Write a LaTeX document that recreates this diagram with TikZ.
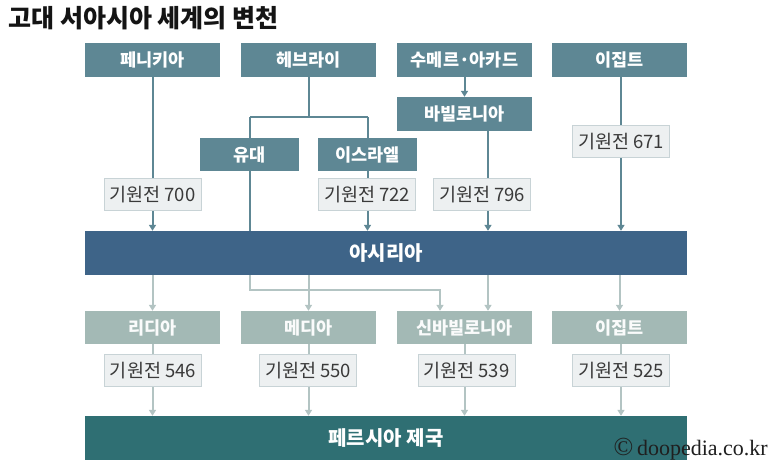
\documentclass[tikz,border=0pt]{standalone}
\usepackage{fontspec}
\setmainfont{Noto Sans CJK KR}
\newfontfamily\lsrf{Liberation Serif}
\usetikzlibrary{arrows.meta}
\definecolor{topc}{HTML}{5E8794}
\definecolor{assc}{HTML}{3E6488}
\definecolor{lowc}{HTML}{A3B9B5}
\definecolor{perc}{HTML}{2F6F73}
\definecolor{datef}{HTML}{EDF0F1}
\definecolor{dated}{HTML}{C8D3D6}
\definecolor{datet}{HTML}{3A3A3A}
\definecolor{lowln}{HTML}{B3C4C3}
\tikzset{
  topbox/.style={rectangle, fill=topc, text=white, font=\fontsize{17.5}{19}\selectfont\bfseries, minimum width=135pt, minimum height=34pt, inner sep=0pt},
  midbox/.style={topbox, minimum width=99pt, minimum height=33pt},
  datebox/.style={rectangle, fill=datef, draw=dated, line width=1pt, text=datet, font=\fontsize{18.5}{20}\selectfont, minimum width=97pt, minimum height=32pt, inner sep=0pt},
  lowbox/.style={topbox, fill=lowc, text=white!95!lowc, minimum height=33pt},
  bigbox/.style={rectangle, text=white, font=\fontsize{20}{22}\selectfont\bfseries, minimum width=602pt, minimum height=44pt, inner sep=0pt},
  darkln/.style={draw=topc, line width=2pt},
  lightln/.style={draw=lowln, line width=2pt},
  tip/.style={-{Triangle[width=7pt,length=6pt]}}
}
\begin{document}
\begin{tikzpicture}[x=1pt,y=-1pt]
\useasboundingbox (0,0) rectangle (773,472);
\fill[white] (0,0) rectangle (773,472);
\node[anchor=west, font=\fontsize{25}{27}\selectfont\bfseries, text=black!92] (title) at (5,18) {고대 서아시아 세계의 변천};
% top row
\node[topbox] (phe) at (152.5,60) {페니키아};
\node[topbox] (heb) at (308.5,60) {헤브라이};
\node[topbox] (sum) at (464.5,60) {수메르·아카드};
\node[topbox] (egy) at (619.5,60) {이집트};
\node[topbox] (bab) at (464.5,114) {바빌로니아};
\node[midbox] (jud) at (249.5,154.5) {유대};
\node[midbox] (isr) at (367.5,154.5) {이스라엘};
\node[datebox] (d700) at (152.5,194.5) {기원전 700};
\node[datebox] (d722) at (367,194.5) {기원전 722};
\node[datebox] (d796) at (482,194.5) {기원전 796};
\node[datebox] (d671) at (621,141.5) {기원전 671};
\node[bigbox, fill=assc] (ass) at (386,253) {아시리아};
% lower
\node[lowbox] (lyd) at (152.5,327.5) {리디아};
\node[lowbox] (med) at (308.5,327.5) {메디아};
\node[lowbox] (nbab) at (464.5,327.5) {신바빌로니아};
\node[lowbox] (legy) at (619.5,327.5) {이집트};
\node[datebox] (d546) at (153,370.5) {기원전 546};
\node[datebox] (d550) at (308,370.5) {기원전 550};
\node[datebox] (d539) at (466.5,370.5) {기원전 539};
\node[datebox] (d525) at (621,370.5) {기원전 525};
\node[bigbox, fill=perc] (per) at (386,438) {페르시아 제국};
\node[anchor=east, font=\lsrf\fontsize{22}{24}\selectfont, text=black!88, inner sep=0pt] (copy) at (768,449) {{\fontsize{26}{26}\selectfont ©}\,doopedia.co.kr};
% helper coordinates
\coordinate (xb) at (488,0);
\coordinate (hj) at (308.5,117);
\coordinate (jl) at (250,117);
\coordinate (il) at (367.5,117);
\coordinate (jr) at (250,290);
\coordinate (nr) at (440,290);
% upper connectors
\draw[darkln] (phe.south) -- (d700.north);
\draw[darkln,tip] (d700.south) -- (d700.south |- ass.north);
\draw[darkln] (heb.south) -- (hj);
\draw[darkln] (jl) -- (il);
\draw[darkln] (jl) -- (jud.north -| jl);
\draw[darkln] (il) -- (isr.north);
\draw[darkln] (jud.south -| jl) -- (ass.north -| jl);
\draw[darkln] (isr.south) -- (d722.north -| isr.south);
\draw[darkln,tip] (d722.south -| isr.south) -- (ass.north -| isr.south);
\draw[darkln,tip] (sum.south) -- (bab.north);
\draw[darkln] (bab.south -| xb) -- (d796.north -| xb);
\draw[darkln,tip] (d796.south -| xb) -- (ass.north -| xb);
\draw[darkln] (egy.south -| d671.north) -- (d671.north);
\draw[darkln,tip] (d671.south) -- (ass.north -| d671.south);
% lower connectors
\draw[lightln,tip] (ass.south -| lyd.north) -- (lyd.north);
\draw[lightln,tip] (ass.south -| med.north) -- (med.north);
\draw[lightln,tip] (ass.south -| xb) -- (nbab.north -| xb);
\draw[lightln,tip] (ass.south -| legy.north) -- (legy.north);
\draw[lightln,tip] (ass.south -| jr) -- (jr) -- (nr) -- (nbab.north -| nr);
\draw[lightln] (lyd.south) -- (d546.north -| lyd.south);
\draw[lightln,tip] (d546.south -| lyd.south) -- (per.north -| lyd.south);
\draw[lightln] (med.south) -- (d550.north -| med.south);
\draw[lightln,tip] (d550.south -| med.south) -- (per.north -| med.south);
\draw[lightln] (nbab.south) -- (d539.north -| nbab.south);
\draw[lightln,tip] (d539.south -| nbab.south) -- (per.north -| nbab.south);
\draw[lightln] (legy.south -| d525.north) -- (d525.north);
\draw[lightln,tip] (d525.south) -- (per.north -| d525.south);
\end{tikzpicture}
\end{document}
